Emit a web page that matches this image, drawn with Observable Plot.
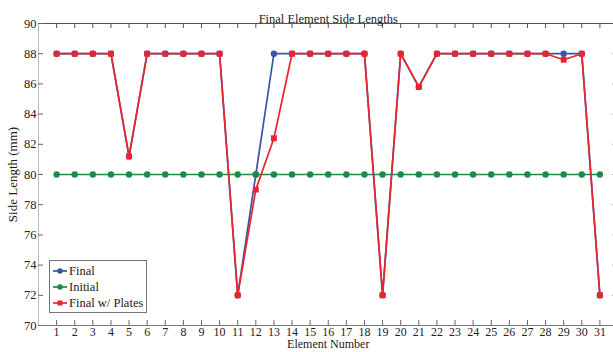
<!DOCTYPE html>
<html>
<head>
<meta charset="utf-8">
<script src="https://cdn.jsdelivr.net/npm/d3@7"></script>
<script src="https://cdn.jsdelivr.net/npm/@observablehq/plot@0.6"></script>
<style>
  html, body { margin: 0; padding: 0; background: #fff; overflow: hidden; }
  #wrap { position: relative; width: 613px; height: 352px; font-family: "Liberation Serif", "Times New Roman", serif; }
  #legend { position: absolute; left: 49px; top: 260px; width: 98px; height: 53px; border: 1px solid #777; background: #fff; box-sizing: border-box; font-size: 12.5px; color: #222; padding-top: 2px; white-space: nowrap; }
  #legend .row { display: flex; align-items: center; height: 16px; }
  #legend svg { display: block; margin-left: 2px; margin-right: 1px; flex: none; }
</style>
</head>
<body>
<div id="wrap"></div>
<script>
const elements = d3.range(1, 32);
const finalLen = [88,88,88,88,81.2,88,88,88,88,88,72,80,88,88,88,88,88,88,72,88,85.8,88,88,88,88,88,88,88,88,88,72];
const initialLen = Array.from({length: 31}, () => 80);
const platesLen = [88,88,88,88,81.2,88,88,88,88,88,72,79,82.4,88,88,88,88,88,72,88,85.8,88,88,88,88,88,88,88,87.6,88,72];
const seriesNames = ["Final", "Initial", "Final w/ Plates"];
const seriesColors = ["#3a56a8", "#1d8a47", "#e9252c"];
const yTicks = d3.range(70, 91, 2);
const xTicks = elements;
const titleText = "Final Element Side Lengths";
const xLabel = "Element Number";
const yLabel = "Side Length (mm)";

const rows = (vals) => elements.map((e, i) => ({e, v: vals[i]}));
const dFinal = rows(finalLen), dInit = rows(initialLen), dPlates = rows(platesLen);

const W = 613, H = 352, mL = 38, mR = -4.5, mT = 23, mB = 27;
const fw = W - mL - mR, fh = H - mT - mB;

const chart = Plot.plot({
  width: W, height: H,
  marginLeft: mL, marginRight: mR, marginTop: mT, marginBottom: mB,
  style: {fontFamily: "'Liberation Serif', 'Times New Roman', serif", fontSize: "12px", color: "#222", background: "#fff"},
  x: {domain: [0, 32]},
  y: {domain: [70, 90]},
  marks: [
    Plot.ruleX([0], {stroke: "#bbb", strokeWidth: 1}),
    Plot.ruleY([70], {stroke: "#777", strokeWidth: 1}),
    Plot.ruleY([90], {stroke: "#555", strokeWidth: 1}),
    Plot.tickX(xTicks, {x: d => d, insetTop: fh - 5, stroke: "#666"}),
    Plot.tickX(xTicks, {x: d => d, insetBottom: fh - 5, stroke: "#555"}),
    Plot.tickY(yTicks, {y: d => d, insetRight: fw - 5, stroke: "#666"}),
    Plot.tickY(yTicks, {y: d => d, insetLeft: fw - 5, stroke: "#666"}),
    Plot.axisX({ticks: xTicks, tickSize: 0, tickPadding: 1.5, label: null, fontSize: 12}),
    Plot.axisY({ticks: yTicks, tickSize: 0, tickPadding: 2, label: null, fontSize: 12.5}),
    Plot.line(dFinal, {x: "e", y: "v", stroke: seriesColors[0], strokeWidth: 1.7}),
    Plot.dot(dFinal, {x: "e", y: "v", fill: seriesColors[0], r: 3.2}),
    Plot.line(dInit, {x: "e", y: "v", stroke: seriesColors[1], strokeWidth: 1.7}),
    Plot.dot(dInit, {x: "e", y: "v", fill: seriesColors[1], r: 3.2}),
    Plot.line(dPlates, {x: "e", y: "v", stroke: seriesColors[2], strokeWidth: 1.7}),
    Plot.dot(dPlates, {x: "e", y: "v", fill: seriesColors[2], symbol: "square", r: 3.3}),
    Plot.text([titleText], {frameAnchor: "top", dy: -9, fontSize: 12.5, fill: "#222"}),
    Plot.text([xLabel], {frameAnchor: "bottom", dy: 22.5, fontSize: 12, fill: "#222"}),
    Plot.text([yLabel], {frameAnchor: "left", rotate: -90, dx: -26, textAnchor: "middle", fontSize: 13, fill: "#222"})
  ]
});

const wrap = document.getElementById("wrap");
wrap.appendChild(chart);

// legend
const legend = d3.select(wrap).append("div").attr("id", "legend");
seriesNames.forEach((name, i) => {
  const row = legend.append("div").attr("class", "row");
  const s = row.append("svg").attr("width", 16).attr("height", 10);
  s.append("line").attr("x1", 1).attr("x2", 15).attr("y1", 5).attr("y2", 5)
    .attr("stroke", seriesColors[i]).attr("stroke-width", 1.7);
  if (i === 2) s.append("rect").attr("x", 5.5).attr("y", 2.5).attr("width", 5).attr("height", 5).attr("fill", seriesColors[i]);
  else s.append("circle").attr("cx", 8).attr("cy", 5).attr("r", 2.8).attr("fill", seriesColors[i]);
  row.append("span").text(name);
});
</script>
</body>
</html>
